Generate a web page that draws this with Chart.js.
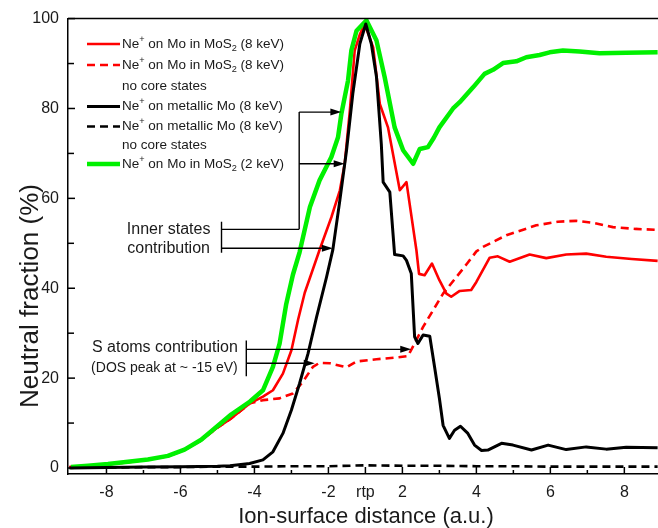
<!DOCTYPE html>
<html>
<head>
<meta charset="utf-8">
<script src="https://cdn.jsdelivr.net/npm/chart.js@4.4.1/dist/chart.umd.min.js"></script>
<style>
    body { margin: 0; background: #fff; }
    #wrap { width: 658px; height: 528px; }
</style>
</head>
<body>
<div id="wrap"><canvas id="myChart" width="658" height="528"></canvas></div>
<script>
// plot position on x: -9..-2 incoming, -1 = rtp, 0..7 outgoing (outgoing label = x + 2)
const xTickPos = [-8, -6, -4, -2, -1, 0, 2, 4, 6];
const xTickLabels = ['-8', '-6', '-4', '-2', 'rtp', '2', '4', '6', '8'];
const yTickVals = [0, 20, 40, 60, 80, 100];

// Ne+ on metallic Mo (8 keV)
const metalX = [-9.0, -8.0, -7.0, -6.0, -5.0, -4.66, -4.13, -3.77, -3.5, -3.23, -3.0, -2.78, -2.55, -2.32, -2.05, -1.88, -1.69, -1.51, -1.34, -1.15, -0.99, -0.84, -0.7, -0.57, -0.52, -0.34, -0.21, 0.02, 0.11, 0.24, 0.33, 0.42, 0.56, 0.74, 0.87, 1.0, 1.1, 1.27, 1.41, 1.57, 1.77, 1.95, 2.14, 2.31, 2.68, 2.99, 3.49, 3.94, 4.43, 4.97, 5.51, 6.05, 6.9];
const metalY = [0.0, 0.1, 0.2, 0.3, 0.4, 0.5, 1.0, 1.8, 3.6, 7.7, 12.9, 18.8, 25.5, 33.6, 42.5, 48.6, 59.6, 70.7, 83.3, 94.4, 98.8, 94.4, 87.0, 72.1, 63.6, 61.4, 47.5, 47.2, 46.2, 43.3, 29.2, 27.7, 29.6, 29.3, 22.5, 15.5, 9.5, 6.6, 8.4, 9.3, 7.7, 5.1, 3.9, 4.0, 5.5, 5.1, 4.0, 5.1, 4.1, 4.7, 4.2, 4.6, 4.5];

// Ne+ on metallic Mo (8 keV), no core states
const metalNoCoreX = [-9, -8, -7, -6, -5, -4, -3, -2, -1, 0, 1, 2, 3, 4, 5, 6, 6.9];
const metalNoCoreY = [0.1, 0.1, 0.2, 0.2, 0.3, 0.3, 0.4, 0.4, 0.6, 0.5, 0.5, 0.4, 0.4, 0.3, 0.3, 0.3, 0.3];

// Ne+ on Mo in MoS2 (2 keV)
const mos2LowX = [-8.96, -8.5, -7.96, -7.42, -6.88, -6.34, -5.89, -5.44, -4.99, -4.63, -4.12, -3.77, -3.5, -3.32, -3.14, -2.96, -2.78, -2.5, -2.24, -1.92, -1.74, -1.65, -1.47, -1.38, -1.24, -0.97, -0.7, -0.48, -0.21, 0.02, 0.29, 0.47, 0.69, 0.85, 1.0, 1.37, 1.55, 1.91, 2.22, 2.45, 2.72, 3.08, 3.35, 3.71, 3.98, 4.34, 4.79, 5.33, 6.05, 6.9];
const mos2LowY = [0.2, 0.5, 0.9, 1.4, 1.9, 2.7, 4.1, 6.3, 9.4, 11.9, 14.8, 17.3, 22.5, 27.7, 36.5, 43.0, 48.0, 58.1, 64.0, 69.2, 73.6, 78.8, 86.2, 92.9, 97.3, 99.6, 95.1, 87.0, 75.8, 70.7, 67.7, 71.0, 71.4, 73.5, 75.8, 80.0, 81.4, 84.7, 87.7, 88.6, 90.1, 90.5, 91.4, 91.9, 92.5, 92.9, 92.7, 92.3, 92.4, 92.5];

// Ne+ on Mo in MoS2 (8 keV)
const mos2X = [-9.0, -8.5, -8.0, -7.4, -6.9, -6.3, -5.9, -5.45, -5.0, -4.65, -4.12, -3.77, -3.5, -3.23, -3.0, -2.82, -2.64, -2.45, -2.24, -1.92, -1.69, -1.56, -1.42, -1.29, -1.15, -1.02, -0.79, -0.61, -0.39, -0.07, 0.11, 0.38, 0.45, 0.6, 0.8, 1.0, 1.19, 1.32, 1.55, 1.86, 2.0, 2.36, 2.58, 2.9, 3.44, 3.89, 4.43, 4.97, 5.51, 6.2, 6.9];
const mos2Y = [0.2, 0.4, 0.8, 1.3, 1.9, 2.7, 4.0, 6.1, 9.0, 10.9, 14.4, 15.9, 17.3, 21.0, 26.2, 33.0, 39.0, 43.5, 48.5, 55.8, 61.8, 67.7, 79.6, 92.9, 96.5, 98.8, 93.6, 81.0, 75.8, 61.8, 63.6, 48.4, 43.2, 42.9, 45.5, 41.8, 38.8, 38.1, 39.4, 39.6, 41.4, 46.8, 47.1, 45.9, 47.5, 46.7, 47.5, 47.7, 47.0, 46.5, 46.1];

// Ne+ on Mo in MoS2 (8 keV), no core states
const mos2NoCoreX = [-9.0, -8.5, -8.0, -7.4, -6.9, -6.3, -5.9, -5.45, -5.0, -4.65, -4.12, -3.77, -3.32, -2.96, -2.69, -2.42, -2.24, -1.96, -1.51, -1.24, -0.7, -0.16, 0.15, 0.33, 0.56, 0.83, 1.1, 1.46, 1.75, 2.0, 2.18, 2.81, 3.62, 4.2, 4.7, 5.2, 5.69, 6.3, 6.9];
const mos2NoCoreY = [0.2, 0.4, 0.8, 1.3, 1.9, 2.7, 4.0, 6.1, 9.0, 10.9, 14.4, 15.1, 15.5, 16.6, 19.2, 22.5, 23.4, 23.3, 22.4, 23.7, 24.2, 24.6, 24.9, 27.7, 31.4, 35.1, 38.8, 42.5, 45.5, 48.2, 49.2, 51.8, 54.0, 54.8, 55.0, 54.5, 53.6, 53.2, 53.0];

const FONT = "'Liberation Sans', Arial, sans-serif";
const TXT = '#1a1a1a';

function pts(xs, ys) {
    return xs.map((x, i) => ({x: x, y: ys[i]}));
}

function line(ctx, x1, y1, x2, y2) {
    ctx.beginPath();
    ctx.moveTo(x1, y1);
    ctx.lineTo(x2, y2);
    ctx.stroke();
}

function arrow(ctx, x1, y1, x2, y2) {
    line(ctx, x1, y1, x2 - 8, y2);
    ctx.beginPath();
    ctx.moveTo(x2, y2);
    ctx.lineTo(x2 - 11, y2 - 3.5);
    ctx.lineTo(x2 - 11, y2 + 3.5);
    ctx.closePath();
    ctx.fill();
}

// text pieces: [string, 'sup' | 'sub' | '']
function richText(ctx, parts, x, y, size) {
    let cx = x;
    parts.forEach(([s, kind]) => {
        let fs = kind ? size * 0.68 : size;
        let dy = kind === 'sup' ? -size * 0.35 : kind === 'sub' ? size * 0.3 : 0;
        ctx.font = fs + 'px ' + FONT;
        ctx.fillText(s, cx, y + dy);
        cx += ctx.measureText(s).width;
    });
}

function ionText(target, energy) {
    return [['Ne', ''], ['+', 'sup'], [' on ' + target, ''], ...(target.endsWith('MoS') ? [['2', 'sub']] : []), [' (' + energy + ')', '']];
}

const legendRows = [
    {ds: 2, parts: ionText('Mo in MoS', '8 keV')},
    {ds: 3, parts: ionText('Mo in MoS', '8 keV')},
    {ds: -1, parts: [['no core states', '']]},
    {ds: 0, parts: ionText('metallic Mo', '8 keV')},
    {ds: 4, parts: ionText('metallic Mo', '8 keV')},
    {ds: -1, parts: [['no core states', '']]},
    {ds: 1, parts: ionText('Mo in MoS', '2 keV')}
];
const legendRowY = [44, 65, 86, 106.5, 126.5, 145, 164];

const decorPlugin = {
    id: 'decor',
    afterDraw(chart) {
        const {ctx, chartArea: a, scales: {x, y}} = chart;
        const px = (u) => x.getPixelForValue(u);
        const py = (v) => y.getPixelForValue(v);
        ctx.save();
        ctx.strokeStyle = '#000';
        ctx.fillStyle = '#000';
        ctx.lineWidth = 1.5;
        line(ctx, a.left, a.top, a.right, a.top);

        // inward ticks
        for (let v = 0; v <= 100; v += 10) {
            line(ctx, a.left, py(v), a.left + (v % 20 === 0 ? 7 : 6), py(v));
        }
        for (let u = -8; u <= 6; u++) {
            line(ctx, px(u), a.bottom, px(u), a.bottom - (xTickPos.includes(u) ? 7 : 4));
        }

        // inner states annotation
        ctx.lineWidth = 1.4;
        line(ctx, px(-4.89), py(54.8), px(-4.89), py(47.9));
        line(ctx, px(-4.89), py(53.1), px(-2.79), py(53.1));
        line(ctx, px(-2.79), py(53.1), px(-2.79), py(79.2));
        arrow(ctx, px(-2.79), py(79.2), px(-1.65), py(79.2));
        arrow(ctx, px(-2.79), py(67.7), px(-1.56), py(67.7));
        arrow(ctx, px(-4.89), py(48.9), px(-1.88), py(48.9));

        // S atoms annotation
        line(ctx, px(-4.22), py(28.4), px(-4.22), py(20.4));
        arrow(ctx, px(-4.22), py(26.4), px(0.24), py(26.4));
        arrow(ctx, px(-4.22), py(23.3), px(-2.37), py(23.3));

        ctx.fillStyle = TXT;
        ctx.textBaseline = 'middle';
        ctx.textAlign = 'center';
        ctx.font = '16px ' + FONT;
        ctx.fillText('Inner states', px(-6.32), py(53.1));
        ctx.fillText('contribution', px(-6.32), py(48.9));
        ctx.textAlign = 'right';
        ctx.fillText('S atoms contribution', px(-4.45), py(26.9));
        ctx.font = '14px ' + FONT;
        ctx.fillText('(DOS peak at ~ -15 eV)', px(-4.45), py(22.2));

        // legend
        ctx.textAlign = 'left';
        legendRows.forEach((row, i) => {
            const ry = legendRowY[i];
            if (row.ds >= 0) {
                const ds = chart.data.datasets[row.ds];
                ctx.save();
                ctx.strokeStyle = ds.borderColor;
                ctx.lineWidth = ds.borderWidth;
                ctx.setLineDash(ds.borderDash || []);
                line(ctx, 87, ry, 120, ry);
                ctx.restore();
            }
            ctx.fillStyle = TXT;
            richText(ctx, row.parts, 122, ry, 13.5);
        });

        // axis titles
        ctx.textAlign = 'center';
        ctx.font = '22px ' + FONT;
        ctx.fillText('Ion-surface distance (a.u.)', 366, 517);
        ctx.save();
        ctx.translate(31, 296);
        ctx.rotate(-Math.PI / 2);
        ctx.font = '26px ' + FONT;
        ctx.fillText('Neutral fraction (%)', 0, 0);
        ctx.restore();
        ctx.restore();
    }
};

const ctx = document.getElementById('myChart');
let neutralChart = buildChart(ctx);

function buildChart(current_ctx) {
    return new Chart(current_ctx, {
        type: 'line',
        data: {
            datasets: [
                {label: 'metallic', data: pts(metalX, metalY), borderColor: '#000000', borderWidth: 3, order: 0},
                {label: 'MoS2 2 keV', data: pts(mos2LowX, mos2LowY), borderColor: '#00f000', borderWidth: 4.5, order: 1},
                {label: 'MoS2 8 keV', data: pts(mos2X, mos2Y), borderColor: '#ff0000', borderWidth: 2.6, order: 2},
                {label: 'MoS2 8 keV no core', data: pts(mos2NoCoreX, mos2NoCoreY), borderColor: '#ff0000', borderWidth: 2.6, borderDash: [8, 5], order: 3},
                {label: 'metallic no core', data: pts(metalNoCoreX, metalNoCoreY), borderColor: '#000000', borderWidth: 2.6, borderDash: [8, 5], order: 4}
            ]
        },
        options: {
            responsive: false,
            animation: false,
            devicePixelRatio: 1,
            layout: {padding: {top: 18, left: 0, right: 0, bottom: 0}},
            elements: {
                point: {radius: 0},
                line: {tension: 0, borderJoinStyle: 'round', borderCapStyle: 'butt', fill: false}
            },
            scales: {
                x: {
                    type: 'linear',
                    min: -9.04,
                    max: 6.91,
                    afterFit: (s) => { s.height = 54; },
                    afterBuildTicks: (s) => { s.ticks = xTickPos.map(v => ({value: v})); },
                    ticks: {
                        callback: (v) => xTickLabels[xTickPos.indexOf(v)],
                        padding: 9,
                        maxRotation: 0,
                        autoSkip: false,
                        color: TXT,
                        font: {family: FONT, size: 16}
                    },
                    grid: {display: false, drawTicks: false},
                    border: {display: true, color: '#000', width: 1.5}
                },
                y: {
                    min: -1.333,
                    max: 100,
                    afterFit: (s) => { s.width = 68; },
                    afterBuildTicks: (s) => { s.ticks = yTickVals.map(v => ({value: v})); },
                    ticks: {
                        padding: 9,
                        color: TXT,
                        font: {family: FONT, size: 16}
                    },
                    grid: {display: false, drawTicks: false},
                    border: {display: true, color: '#000', width: 1.5}
                }
            },
            plugins: {
                legend: {display: false},
                tooltip: {enabled: false}
            }
        },
        plugins: [decorPlugin]
    });
}
</script>
</body>
</html>
